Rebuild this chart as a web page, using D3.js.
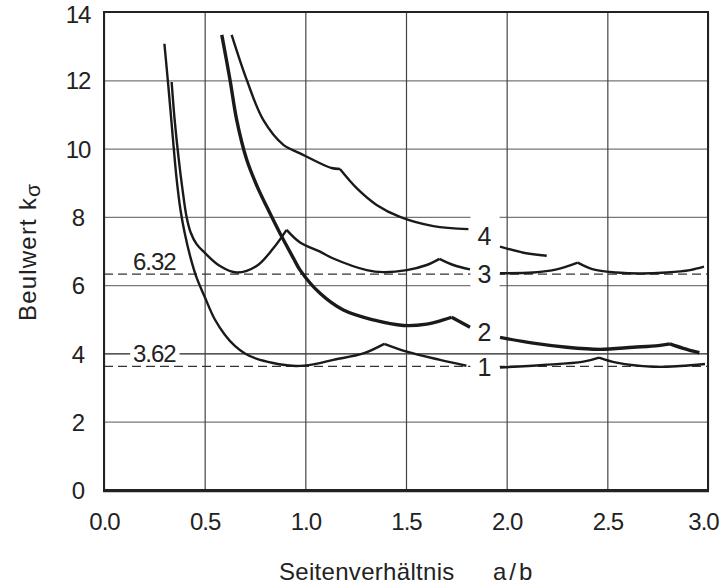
<!DOCTYPE html>
<html>
<head>
<meta charset="utf-8">
<script src="https://cdn.jsdelivr.net/npm/d3@7"></script>
<style>
  body { margin: 0; background: #fff; }
  text { font-family: "Liberation Sans", Arial, sans-serif; fill: #222; }
</style>
</head>
<body>
<script>
// tick values
const aTicks = [0, 0.5, 1.0, 1.5, 2.0, 2.5, 3.0]
const kTicks = [0, 2, 4, 6, 8, 10, 12, 14]

// curve 1 (null = gap where the labels sit)
const a1 = [0.30, 0.32, 0.34, 0.36, 0.38, 0.40, 0.43, 0.46, 0.50, 0.55, 0.60, 0.65, 0.70, 0.76, 0.84, 0.90, 0.957, 1.04, 1.139, 1.288, 1.392, 1.504, 1.669, 1.80, 1.88, 1.967, 2.182, 2.381, 2.459, 2.546, 2.728, 2.861, 2.985]
const k1 = [13.07, 11.8, 10.45, 9.15, 8.2, 7.55, 6.8, 6.22, 5.66, 5.0, 4.55, 4.22, 4.0, 3.84, 3.72, 3.66, 3.63, 3.68, 3.81, 4.0, 4.28, 4.05, 3.81, 3.64, null, 3.59, 3.66, 3.76, 3.88, 3.73, 3.61, 3.63, 3.69]
const kinks1 = [1.392, 2.459]

// curve 2
const a2 = [0.585, 0.626, 0.659, 0.709, 0.76, 0.808, 0.874, 0.94, 0.974, 1.073, 1.189, 1.338, 1.487, 1.603, 1.685, 1.727, 1.818, 1.88, 1.967, 2.132, 2.298, 2.464, 2.629, 2.753, 2.811, 2.877, 2.957]
const k2 = [13.33, 12.01, 10.84, 9.67, 8.9, 8.3, 7.52, 6.8, 6.44, 5.76, 5.27, 4.98, 4.82, 4.86, 4.98, 5.06, 4.77, null, 4.47, 4.30, 4.18, 4.12, 4.18, 4.23, 4.28, 4.15, 4.02]
const kinks2 = [1.727, 2.811]

// curve 3
const a3 = [0.336, 0.35, 0.37, 0.39, 0.41, 0.43, 0.46, 0.50, 0.576, 0.659, 0.758, 0.841, 0.907, 0.974, 1.073, 1.139, 1.305, 1.387, 1.504, 1.603, 1.666, 1.735, 1.818, 1.88, 1.967, 2.132, 2.248, 2.353, 2.43, 2.546, 2.662, 2.795, 2.911, 2.98]
const k3 = [11.95, 10.9, 9.75, 8.8, 8.0, 7.55, 7.2, 6.95, 6.56, 6.37, 6.56, 7.08, 7.62, 7.25, 6.98, 6.78, 6.44, 6.38, 6.44, 6.59, 6.77, 6.59, 6.46, null, 6.35, 6.37, 6.46, 6.66, 6.46, 6.37, 6.34, 6.37, 6.44, 6.54]
const kinks3 = [0.907, 1.666, 2.353]

// curve 4
const a4 = [0.634, 0.709, 0.791, 0.891, 0.974, 1.073, 1.13, 1.172, 1.255, 1.354, 1.47, 1.636, 1.81, 1.88, 1.967, 2.083, 2.199]
const k4 = [13.33, 12.01, 10.84, 10.11, 9.86, 9.57, 9.43, 9.40, 8.84, 8.35, 8.0, 7.73, 7.64, null, 7.13, 6.95, 6.86]
const kinks4 = [1.172]

const curveNames = ['1', '2', '3', '4']
const labelK = [3.6, 4.63, 6.34, 7.44]
const refValues = [6.32, 3.62]

const curves = [
  {a: a1, k: k1, kinks: kinks1, w: 2.4},
  {a: a2, k: k2, kinks: kinks2, w: 3.4},
  {a: a3, k: k3, kinks: kinks3, w: 2.4},
  {a: a4, k: k4, kinks: kinks4, w: 2.4}
]

const W = 724, H = 588
const svg = d3.select('body').append('svg').attr('width', W).attr('height', H)

const x = d3.scaleLinear().domain([0, 3]).range([104, 708])
const y = d3.scaleLinear().domain([0, 14]).range([490, 12])

// grid + tick labels through the axes
const yAxis = d3.axisLeft(y).tickValues(kTicks).tickSize(-(x(3) - x(0))).tickFormat(d3.format('d'))
const gy = svg.append('g').attr('transform', `translate(${x(0)},0)`).call(yAxis)
gy.select('.domain').remove()
gy.selectAll('.tick line').attr('stroke', (d) => d === 4 ? '#222' : '#777').attr('stroke-width', 1.2)
gy.selectAll('.tick text').attr('x', -26).attr('text-anchor', 'middle').attr('dy', '0.36em')
  .style('font-size', '24px').style('letter-spacing', '-1px').attr('fill', '#222')
gy.selectAll('.tick').filter((d) => d === 14).select('text').attr('dy', '0.42em')

const xAxis = d3.axisBottom(x).tickValues(aTicks).tickSize(-(y(0) - y(14))).tickFormat(d3.format('.1f'))
const gx = svg.append('g').attr('transform', `translate(0,${y(0)})`).call(xAxis)
gx.select('.domain').remove()
gx.selectAll('.tick line').attr('stroke', '#444').attr('stroke-width', 1.2)
gx.selectAll('.tick text').attr('y', 23).attr('dy', '0.71em').style('font-size', '24px')
  .style('letter-spacing', '-1px').attr('fill', '#222')
gx.selectAll('.tick').filter((d) => d === 3).select('text').attr('dx', -5)

// dashed reference levels
svg.selectAll('line.ref').data(refValues).join('line').attr('class', 'ref')
  .attr('x1', x(0)).attr('x2', x(3))
  .attr('y1', (d) => y(d)).attr('y2', (d) => y(d))
  .attr('stroke', '#333').attr('stroke-width', 1.2).attr('stroke-dasharray', '9,5')

// white boxes where the curve numbers sit
svg.append('rect').attr('x', x(1.82)).attr('y', y(8.2)).attr('width', x(1.965) - x(1.82)).attr('height', y(5.9) - y(8.2)).attr('fill', '#fff')
svg.append('rect').attr('x', x(1.82)).attr('y', y(3.86)).attr('width', x(1.965) - x(1.82)).attr('height', y(3.3) - y(3.86)).attr('fill', '#fff')
svg.append('rect').attr('x', x(0.13)).attr('y', y(4.28)).attr('width', x(0.375) - x(0.13)).attr('height', y(3.72) - y(4.28)).attr('fill', '#fff')

// split each curve at its gap and at its cusps
function segments(c) {
  const segs = []
  let cur = []
  c.a.forEach((a, i) => {
    const k = c.k[i]
    if (k === null) { if (cur.length) segs.push(cur); cur = []; return }
    cur.push([a, k])
    if (c.kinks.includes(a)) { segs.push(cur); cur = [[a, k]] }
  })
  if (cur.length > 1) segs.push(cur)
  return segs
}

const line = d3.line().x((d) => x(d[0])).y((d) => y(d[1])).curve(d3.curveCatmullRom.alpha(0.5))

curves.forEach((c) => {
  svg.append('g').selectAll('path').data(segments(c)).join('path')
    .attr('d', line)
    .attr('fill', 'none').attr('stroke', '#1a1a1a').attr('stroke-width', c.w)
    .attr('stroke-linecap', 'butt').attr('stroke-linejoin', 'miter')
})

// curve numbers
svg.selectAll('text.cname').data(curveNames).join('text').attr('class', 'cname')
  .attr('x', x(1.89)).attr('y', (d, i) => y(labelK[i])).attr('dy', '0.36em')
  .attr('text-anchor', 'middle').style('font-size', '25px').text((d) => d)

// reference values
svg.append('text').attr('x', x(0.25)).attr('y', y(6.32) - 4).attr('text-anchor', 'middle')
  .style('font-size', '24px').style('letter-spacing', '-1px').text('6.32')
svg.append('text').attr('x', x(0.25)).attr('y', y(4)).attr('dy', '0.36em').attr('text-anchor', 'middle')
  .style('font-size', '24px').style('letter-spacing', '-1px').text('3.62')

// frame
svg.append('rect').attr('x', x(0)).attr('y', y(14)).attr('width', x(3) - x(0)).attr('height', y(0) - y(14))
  .attr('fill', 'none').attr('stroke', '#222').attr('stroke-width', 2)
svg.append('line').attr('x1', x(0) - 1).attr('x2', x(3) + 1).attr('y1', y(0) + 1).attr('y2', y(0) + 1)
  .attr('stroke', '#222').attr('stroke-width', 2.5)

// axis titles
svg.append('text').attr('x', 279).attr('y', 580).style('font-size', '24px').style('letter-spacing', '0.3px').text('Seitenverhältnis')
svg.append('text').attr('x', 493).attr('y', 580).style('font-size', '24px').style('letter-spacing', '3px').text('a/b')

const yt = svg.append('text').attr('transform', 'translate(36,321) rotate(-90)').style('font-size', '24px')
yt.append('tspan').style('letter-spacing', '1.2px').text('Beulwert')
yt.append('tspan').attr('dx', 8).text('k')
yt.append('tspan').attr('dx', 1).attr('dy', 4).style('font-size', '21px').text('σ')
</script>
</body>
</html>
